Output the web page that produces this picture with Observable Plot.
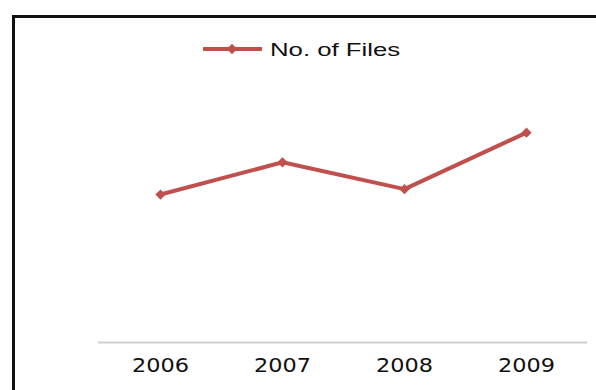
<!DOCTYPE html>
<html>
<head>
<meta charset="utf-8">
<script src="https://cdn.jsdelivr.net/npm/d3@7"></script>
<script src="https://cdn.jsdelivr.net/npm/@observablehq/plot@0.6"></script>
<style>
  html, body { margin: 0; padding: 0; background: #fff; }
  body { width: 596px; height: 390px; position: relative; overflow: hidden; }
  #frame {
    position: absolute; left: 12px; top: 15px; width: 640px; height: 420px;
    border-left: 3px solid #111; border-top: 3px solid #111;
  }
  #chart { position: absolute; left: 0; top: 0; }
  #legend { position: absolute; left: 203px; top: 39px; height: 22px; }
  #legend svg { position: absolute; left: 0; top: 4px; }
  #legend span {
    position: absolute; left: 67px; top: 0; white-space: nowrap;
    font-family: "Liberation Sans", Arial, sans-serif; font-size: 18.8px; color: #111;
    transform: scaleX(1.37); transform-origin: left center;
  }
</style>
</head>
<body>
<div id="frame"></div>
<div id="chart"></div>
<div id="legend"></div>
<script>
// Number of files per year
const years = ["2006", "2007", "2008", "2009"];
const files = [55, 67, 57, 78];
const seriesName = "No. of Files";
const lineColor = "#c0504d";

const data = years.map((y, i) => ({year: y, files: files[i]}));

const plot = Plot.plot({
  width: 596,
  height: 390,
  marginLeft: 98,
  marginRight: 9,
  marginTop: 73,
  marginBottom: 48,
  style: {background: "transparent", overflow: "visible"},
  x: {type: "band", domain: years, padding: 0, label: null, tickSize: 0, tickPadding: 15},
  y: {domain: [0, 100], axis: null},
  marks: [
    Plot.ruleY([0], {stroke: "#cfcfcf", strokeWidth: 2}),
    Plot.line(data, {x: "year", y: "files", stroke: lineColor, strokeWidth: 4}),
    Plot.dot(data, {x: "year", y: "files", symbol: "diamond2", r: 4.6, fill: lineColor, stroke: "none"})
  ]
});
document.getElementById("chart").appendChild(plot);

// Axis labels: wide, dark sans text
d3.select(plot).selectAll("[aria-label='x-axis tick label'] text")
  .attr("font-family", "'DejaVu Sans', sans-serif")
  .attr("font-size", 20)
  .attr("fill", "#111")
  .attr("textLength", 57)
  .attr("lengthAdjust", "spacingAndGlyphs");

// Legend: swatch with line and diamond, then series name
const legend = d3.select("#legend");
const sw = legend.append("svg").attr("width", 62).attr("height", 12);
sw.append("line").attr("x1", 0).attr("x2", 59).attr("y1", 6).attr("y2", 6)
  .attr("stroke", lineColor).attr("stroke-width", 4);
sw.append("path").attr("d", d3.symbol(d3.symbolDiamond2, 72)()).attr("transform", "translate(29,6)")
  .attr("fill", lineColor);
legend.append("span").text(seriesName);
</script>
</body>
</html>
